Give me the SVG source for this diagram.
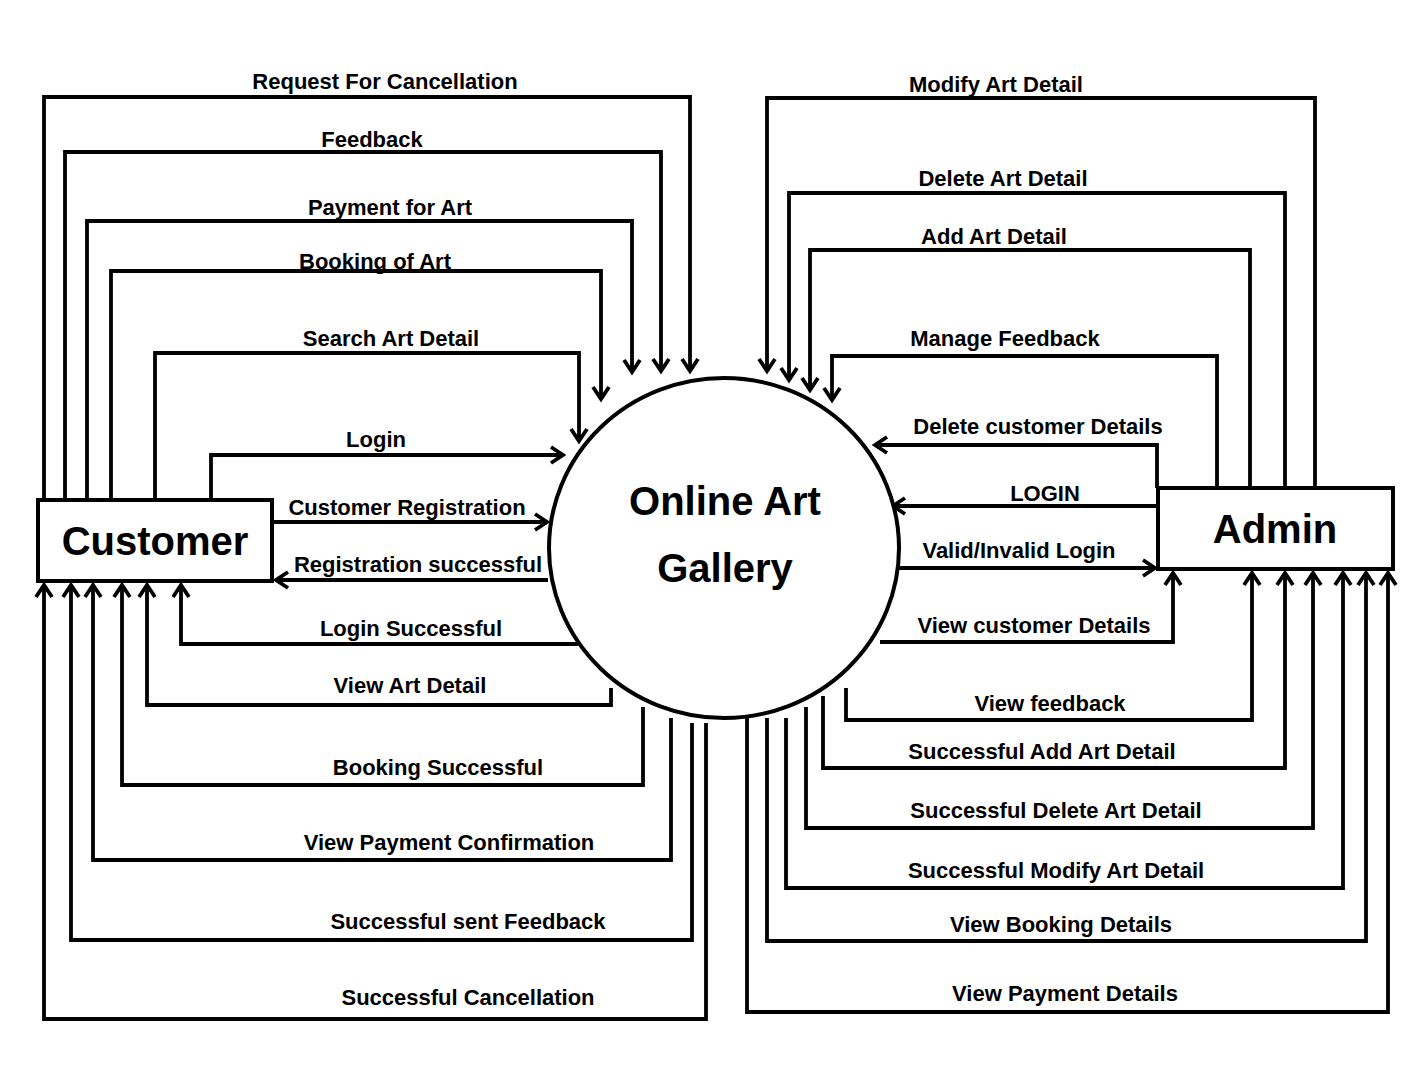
<svg xmlns="http://www.w3.org/2000/svg" width="1407" height="1073" viewBox="0 0 1407 1073">
<style>
.c{fill:none;stroke:#000;stroke-width:3.8;stroke-linejoin:miter}
.a{marker-end:url(#ah)}
.l{font-family:"Liberation Sans",Arial,sans-serif;font-weight:bold;font-size:22px;text-anchor:middle;fill:#000}
.big{font-family:"Liberation Sans",Arial,sans-serif;font-weight:bold;font-size:40px;text-anchor:middle;fill:#000}
.box{fill:#fff;stroke:#000;stroke-width:4}
</style>
<defs>
<marker id="ah" markerUnits="userSpaceOnUse" markerWidth="22" markerHeight="22" refX="15" refY="11" orient="auto">
<path d="M3,3 L15,11 L3,19" fill="none" stroke="#000" stroke-width="3.8"/>
</marker>
</defs>
<rect width="1407" height="1073" fill="#fff"/>
<g id="connectors">
<path class="c a" d="M44,500 V97 H690 V371"/>
<path class="c a" d="M65,500 V152 H661 V371"/>
<path class="c a" d="M87,500 V221 H632 V372"/>
<path class="c a" d="M111,500 V271 H601 V399"/>
<path class="c a" d="M155,500 V353 H579 V441"/>
<path class="c a" d="M211,500 V455 H563"/>
<path class="c a" d="M272,522 H547"/>
<path class="c a" d="M548,580 H276"/>
<path class="c a" d="M578,644 H181 V585"/>
<path class="c a" d="M611,688 V705 H147 V585"/>
<path class="c a" d="M643,707 V785 H122 V585"/>
<path class="c a" d="M671,718 V860 H93 V585"/>
<path class="c a" d="M692,723 V940 H71 V585"/>
<path class="c a" d="M706,723 V1019 H44 V585"/>
<path class="c a" d="M1315,488 V98 H767 V371"/>
<path class="c a" d="M1285,488 V193 H789 V380"/>
<path class="c a" d="M1250,488 V250 H810 V390"/>
<path class="c a" d="M1217,488 V356 H832 V400"/>
<path class="c a" d="M1157,488 V445 H875"/>
<path class="c a" d="M1158,506 H893"/>
<path class="c a" d="M899,568 H1155"/>
<path class="c a" d="M880,642 H1173 V573"/>
<path class="c a" d="M846,688 V720 H1252 V573"/>
<path class="c a" d="M823,696 V768 H1285 V573"/>
<path class="c a" d="M806,707 V828 H1313 V573"/>
<path class="c a" d="M786,718 V888 H1343 V573"/>
<path class="c a" d="M767,718 V941 H1366 V573"/>
<path class="c a" d="M747,718 V1012 H1388 V573"/>
</g>
<g id="labels">
<text class="l" x="385" y="89">Request For Cancellation</text>
<text class="l" x="372" y="147">Feedback</text>
<text class="l" x="390" y="215">Payment for Art</text>
<text class="l" x="375" y="269">Booking of Art</text>
<text class="l" x="391" y="346">Search Art Detail</text>
<text class="l" x="376" y="447">Login</text>
<text class="l" x="407" y="515">Customer Registration</text>
<text class="l" x="418" y="572">Registration successful</text>
<text class="l" x="411" y="636">Login Successful</text>
<text class="l" x="410" y="693">View Art Detail</text>
<text class="l" x="438" y="775">Booking Successful</text>
<text class="l" x="449" y="850">View Payment Confirmation</text>
<text class="l" x="468" y="929">Successful sent Feedback</text>
<text class="l" x="468" y="1005">Successful Cancellation</text>
<text class="l" x="996" y="92">Modify Art Detail</text>
<text class="l" x="1003" y="186">Delete Art Detail</text>
<text class="l" x="994" y="244">Add Art Detail</text>
<text class="l" x="1005" y="346">Manage Feedback</text>
<text class="l" x="1038" y="434">Delete customer Details</text>
<text class="l" x="1045" y="501">LOGIN</text>
<text class="l" x="1019" y="558">Valid/Invalid Login</text>
<text class="l" x="1034" y="633">View customer Details</text>
<text class="l" x="1050" y="711">View feedback</text>
<text class="l" x="1042" y="759">Successful Add Art Detail</text>
<text class="l" x="1056" y="818">Successful Delete Art Detail</text>
<text class="l" x="1056" y="878">Successful Modify Art Detail</text>
<text class="l" x="1061" y="932">View Booking Details</text>
<text class="l" x="1065" y="1001">View Payment Details</text>
</g>
<g id="customer">
<rect class="box" x="38" y="500" width="234" height="81"/>
<text class="big" x="155" y="555">Customer</text>
</g>
<g id="admin">
<rect class="box" x="1158" y="488" width="235" height="81"/>
<text class="big" x="1275" y="543">Admin</text>
</g>
<g id="gallery">
<ellipse cx="724" cy="548" rx="175" ry="170" fill="#fff" stroke="#000" stroke-width="4"/>
<text class="big" x="725" y="515">Online Art</text>
<text class="big" x="725" y="582">Gallery</text>
</g>
</svg>
